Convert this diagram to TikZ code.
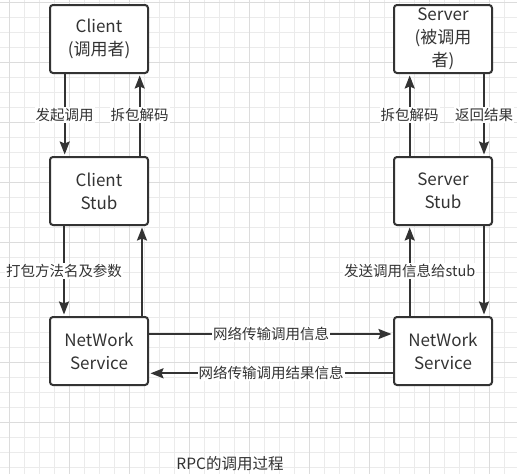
\documentclass[tikz,border=0pt]{standalone}
\usepackage{fontspec}
\setmainfont{Noto Sans CJK SC}
\usetikzlibrary{arrows.meta}
\definecolor{ink}{HTML}{333333}
\definecolor{gridminor}{HTML}{EBEBEB}
\definecolor{gridmajor}{HTML}{DCDCDC}
\begin{document}
\begin{tikzpicture}[x=1pt,y=-1pt,
  box/.style={draw=ink, line width=2pt, rounded corners=3pt, minimum width=98pt, minimum height=68pt,
    align=center, font=\fontsize{17}{23}\selectfont, text=ink, inner sep=0pt, fill=white},
  arr/.style={draw=ink, line width=2pt, -{Stealth[length=13pt,width=10pt,inset=2pt]}, shorten >=1.5pt},
  lab/.style={fill=white, text=ink, font=\fontsize{14.5}{16}\selectfont, inner sep=1pt},
  gminor/.style={draw=gridminor, line width=1pt},
  gmajor/.style={draw=gridmajor, line width=1pt},
]
\useasboundingbox (0,0) rectangle (517,474);
\fill[white] (0,0) rectangle (517,474);
% grid
\foreach \k in {0,...,33} \draw[gminor] ({9.3+15*\k},0) -- ({9.3+15*\k},474);
\foreach \k in {0,...,31} \draw[gminor] (0,{2.3+15*\k}) -- (517,{2.3+15*\k});
\foreach \k in {0,...,8} \draw[gmajor] ({9.3+60*\k},0) -- ({9.3+60*\k},474);
\foreach \k in {0,...,7} \draw[gmajor] (0,{2.3+60*\k}) -- (517,{2.3+60*\k});

% boxes
\node[box] (client) at (99,39) {Client\\(调用者)};
\node[box] (cstub) at (99,191) {Client\\Stub};
\node[box] (cnet) at (99,351) {NetWork\\Service};
\node[box] (server) at (443,39) {Server\\(被调用\\者)};
\node[box] (sstub) at (443,191) {Server\\Stub};
\node[box] (snet) at (443,351) {NetWork\\Service};

% left column
\draw[arr] ([xshift=-34.3pt]client.south) -- node[lab]{发起调用} ([xshift=-34.3pt]cstub.north);
\draw[arr] ([xshift=40.7pt]cstub.north) -- node[lab]{拆包解码} ([xshift=40.7pt]client.south);
\draw[arr] ([xshift=-35pt]cstub.south) -- node[lab]{打包方法名及参数} ([xshift=-35pt]cnet.north);
\draw[arr] ([xshift=43pt]cnet.north) -- ([xshift=43pt]cstub.south);

% right column
\draw[arr] ([xshift=-33.3pt]sstub.north) -- node[lab]{拆包解码} ([xshift=-33.3pt]server.south);
\draw[arr] ([xshift=41pt]server.south) -- node[lab]{返回结果} ([xshift=41pt]sstub.north);
\draw[arr] ([xshift=-33.3pt]snet.north) -- node[lab]{发送调用信息给stub} ([xshift=-33.3pt]sstub.south);
\draw[arr] ([xshift=41pt]sstub.south) -- ([xshift=41pt]snet.north);

% network
\draw[arr] ([yshift=17pt]cnet.east) -- node[lab]{网络传输调用信息} ([yshift=17pt]snet.west);
\draw[arr] ([yshift=-22.3pt]snet.west) -- node[lab]{网络传输调用结果信息} ([yshift=-22.3pt]cnet.east);

% caption
\node[text=ink, font=\fontsize{15.5}{18}\selectfont, inner sep=0pt] (caption) at (230,464) {RPC的调用过程};
\end{tikzpicture}
\end{document}
